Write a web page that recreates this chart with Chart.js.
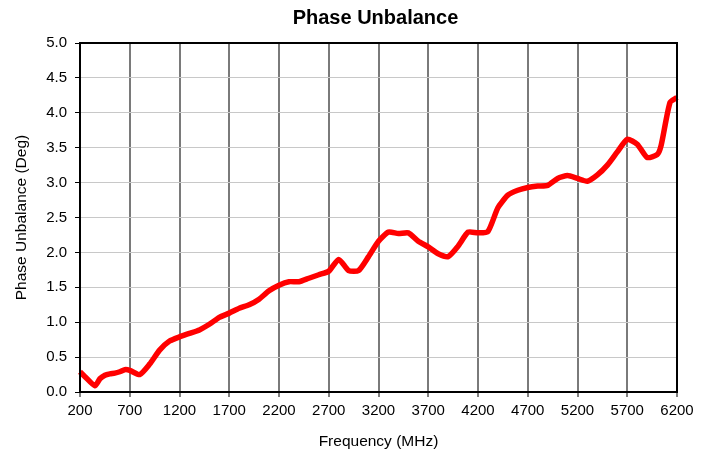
<!DOCTYPE html>
<html>
<head>
<meta charset="utf-8">
<script src="https://cdn.jsdelivr.net/npm/chart.js@4/dist/chart.umd.min.js"></script>
<style>
html,body{margin:0;padding:0;background:#fff;}
#wrap{width:712px;height:455px;position:relative;}
</style>
</head>
<body>
<div id="wrap"><canvas id="c" width="712" height="455"></canvas></div>
<script>
const frequencies = [200,250,350,400,450,500,550,600,650,700,800,900,1000,1100,1200,1300,1400,1500,1600,1700,1800,1900,2000,2100,2200,2300,2400,2500,2600,2700,2800,2900,3000,3100,3200,3300,3400,3500,3600,3700,3800,3900,4000,4100,4200,4300,4400,4500,4600,4700,4800,4900,5000,5100,5200,5300,5400,5500,5600,5700,5800,5900,6000,6040,6130,6200];
const unbalance = [0.29,0.22,0.09,0.19,0.24,0.26,0.27,0.29,0.32,0.31,0.25,0.40,0.60,0.73,0.79,0.84,0.89,0.97,1.07,1.13,1.20,1.25,1.33,1.45,1.53,1.58,1.58,1.63,1.68,1.73,1.90,1.74,1.74,1.94,2.16,2.29,2.27,2.28,2.16,2.08,1.98,1.94,2.09,2.29,2.28,2.30,2.64,2.82,2.89,2.93,2.95,2.96,3.06,3.10,3.06,3.02,3.11,3.25,3.44,3.62,3.55,3.36,3.40,3.53,4.15,4.22];
const xTicks = [200,700,1200,1700,2200,2700,3200,3700,4200,4700,5200,5700,6200];
const yTicks = [0,0.5,1.0,1.5,2.0,2.5,3.0,3.5,4.0,4.5,5.0];
const chartTitle = 'Phase Unbalance';
const xTitle = 'Frequency (MHz)';
const yTitle = 'Phase Unbalance (Deg)';

const FONT = "'Liberation Sans', Arial, sans-serif";

const decorPlugin = {
  id: 'decor',
  afterDatasetsDraw(chart) {
    const a = chart.chartArea, ctx = chart.ctx;
    ctx.save();
    ctx.strokeStyle = '#000';
    ctx.lineWidth = 2;
    ctx.strokeRect(a.left, a.top, a.right - a.left, a.bottom - a.top);
    ctx.fillStyle = '#000';
    ctx.font = "bold 20px " + FONT;
    ctx.textAlign = 'center';
    ctx.textBaseline = 'middle';
    ctx.fillText(chartTitle, (a.left + a.right) / 2 - 3, 18);
    ctx.restore();
  }
};

new Chart(document.getElementById('c'), {
  type: 'line',
  data: {
    datasets: [{
      data: frequencies.map((f, i) => ({x: f, y: unbalance[i]})),
      borderColor: '#ff0000',
      borderWidth: 5.5,
      pointRadius: 0,
      tension: 0.2,
      fill: false,
      clip: false
    }]
  },
  options: {
    responsive: false,
    animation: false,
    devicePixelRatio: 1,
    layout: { padding: { left: 6, right: 35, top: 43, bottom: 4 } },
    plugins: {
      legend: { display: false },
      tooltip: { enabled: false },
      title: { display: false }
    },
    scales: {
      x: {
        type: 'linear',
        min: 200, max: 6200,
        afterBuildTicks(scale) { scale.ticks = xTicks.map(v => ({value: v})); },
        afterFit(scale) { scale.height = 59; },
        ticks: {
          color: '#000', font: { family: FONT, size: 15 }, padding: 5,
          maxRotation: 0, autoSkip: false,
          callback: v => String(v)
        },
        grid: { color: '#7a7a7a', lineWidth: 2, tickColor: '#000', tickLength: 5, tickWidth: 1 },
        border: { display: false },
        title: { display: true, text: xTitle, color: '#000', font: { family: FONT, size: 15.5 }, padding: { top: 4, bottom: 0 } }
      },
      y: {
        min: 0, max: 5,
        afterBuildTicks(scale) { scale.ticks = yTicks.map(v => ({value: v})); },
        afterFit(scale) { scale.width = 74; },
        ticks: {
          color: '#000', font: { family: FONT, size: 15 }, padding: 8,
          callback: v => Number(v).toFixed(1)
        },
        grid: { color: '#c8c8c8', lineWidth: 1, tickColor: '#000', tickLength: 5 },
        border: { display: false },
        title: { display: true, text: yTitle, color: '#000', font: { family: FONT, size: 15.5 }, padding: { top: 6, bottom: 4 } }
      }
    }
  },
  plugins: [decorPlugin]
});
</script>
</body>
</html>
